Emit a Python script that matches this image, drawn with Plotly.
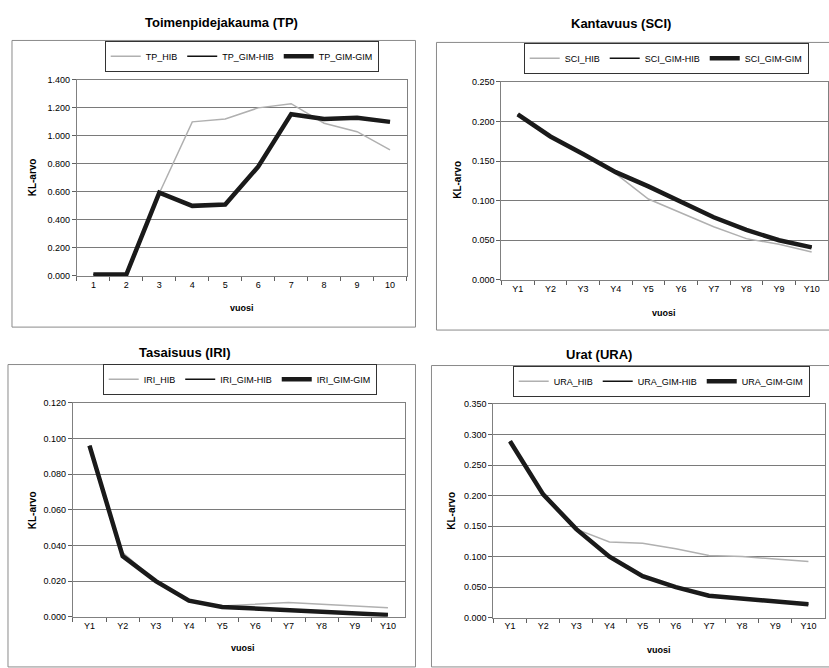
import plotly.graph_objects as go

W, H = 829, 668

years_num = ["1", "2", "3", "4", "5", "6", "7", "8", "9", "10"]
years_y = ["Y1", "Y2", "Y3", "Y4", "Y5", "Y6", "Y7", "Y8", "Y9", "Y10"]

tp_hib = [0.01, 0.01, 0.59, 1.10, 1.12, 1.20, 1.23, 1.09, 1.03, 0.90]
tp_gim_hib = [0.01, 0.01, 0.595, 0.50, 0.51, 0.78, 1.155, 1.12, 1.13, 1.10]
tp_gim_gim = [0.01, 0.01, 0.595, 0.50, 0.51, 0.78, 1.155, 1.12, 1.13, 1.10]

sci_hib = [0.209, 0.181, 0.159, 0.134, 0.102, 0.084, 0.067, 0.052, 0.045, 0.035]
sci_gim_hib = [0.209, 0.181, 0.159, 0.136, 0.118, 0.099, 0.079, 0.063, 0.050, 0.041]
sci_gim_gim = [0.209, 0.181, 0.159, 0.136, 0.118, 0.099, 0.079, 0.063, 0.050, 0.041]

iri_hib = [0.096, 0.036, 0.020, 0.009, 0.006, 0.007, 0.008, 0.007, 0.006, 0.005]
iri_gim_hib = [0.096, 0.034, 0.020, 0.009, 0.0055, 0.0045, 0.0035, 0.0026, 0.0017, 0.001]
iri_gim_gim = [0.096, 0.034, 0.020, 0.009, 0.0055, 0.0045, 0.0035, 0.0026, 0.0017, 0.001]

ura_hib = [0.289, 0.202, 0.145, 0.124, 0.122, 0.113, 0.102, 0.100, 0.096, 0.092]
ura_gim_hib = [0.289, 0.202, 0.145, 0.100, 0.068, 0.050, 0.036, 0.031, 0.026, 0.022]
ura_gim_gim = [0.289, 0.202, 0.145, 0.100, 0.068, 0.050, 0.036, 0.031, 0.026, 0.022]

titles = ["Toimenpidejakauma (TP)", "Kantavuus (SCI)", "Tasaisuus (IRI)", "Urat (URA)"]
prefixes = ["TP", "SCI", "IRI", "URA"]
y_ranges = [(0, 1.4, 0.2), (0, 0.25, 0.05), (0, 0.12, 0.02), (0, 0.35, 0.05)]

panels = [
    (years_num, tp_hib, tp_gim_hib, tp_gim_gim),
    (years_y, sci_hib, sci_gim_hib, sci_gim_gim),
    (years_y, iri_hib, iri_gim_hib, iri_gim_gim),
    (years_y, ura_hib, ura_gim_hib, ura_gim_gim),
]

# layout geometry in pixels
plot_px = [(77, 407, 76, 275), (502, 829, 78, 279), (73, 405, 404, 621), (494, 826, 405, 622)]
box_px = [(12, 416, 36, 327), (437, 832, 38, 330), (8, 416, 365, 672), (432, 832, 366, 672)]
legend_px = [(242, 52), (667, 54), (240, 380), (662, 382)]
title_px = [(222, 18), (622, 19), (185, 353), (600, 355)]
ytitle_px = [(32, 175), (458, 177), (32, 513), (452, 513)]
xtitle_px = [(242, 308), (665, 313), (243, 653), (660, 655)]

FONT = "Liberation Sans, Arial, sans-serif"

def fx(px):
    return px / W

def fy(py):
    return 1 - py / H

fig = go.Figure()
layout = dict(
    width=W, height=H,
    margin=dict(l=0, r=0, t=0, b=0),
    paper_bgcolor="white", plot_bgcolor="white",
    font=dict(family=FONT, size=9, color="black"),
    showlegend=True,
)
shapes = []
annotations = []

for i, (cats, hib, gh, gg) in enumerate(panels):
    n = i + 1
    xa = "x" if n == 1 else f"x{n}"
    ya = "y" if n == 1 else f"y{n}"
    lg = "legend" if n == 1 else f"legend{n}"
    p = prefixes[i]
    fig.add_trace(go.Scatter(x=cats, y=hib, mode="lines", name=f"{p}_HIB",
                             line=dict(color="#b0b0b0", width=1.5),
                             xaxis=xa, yaxis=ya, legend=lg))
    fig.add_trace(go.Scatter(x=cats, y=gh, mode="lines", name=f"{p}_GIM-HIB",
                             line=dict(color="#111111", width=1.5),
                             xaxis=xa, yaxis=ya, legend=lg))
    fig.add_trace(go.Scatter(x=cats, y=gg, mode="lines", name=f"{p}_GIM-GIM",
                             line=dict(color="#1a1a1a", width=4.5),
                             xaxis=xa, yaxis=ya, legend=lg))

    x0, x1, y0, y1 = plot_px[i]
    lo, hi, dt = y_ranges[i]
    layout["xaxis" if n == 1 else f"xaxis{n}"] = dict(
        domain=[fx(x0), fx(x1)], anchor=ya, type="category",
        categoryorder="array", categoryarray=cats,
        range=[-0.5, len(cats) - 0.5],
        showgrid=False, showline=True, linecolor="#808080", linewidth=1,
        mirror=True, ticks="outside", tickson="boundaries", ticklen=4,
        tickcolor="#606060", tickfont=dict(size=9, family=FONT),
        fixedrange=True,
    )
    layout["yaxis" if n == 1 else f"yaxis{n}"] = dict(
        domain=[fy(y1), fy(y0)], anchor=xa,
        range=[lo, hi], dtick=dt, tick0=0, tickformat=".3f",
        showgrid=True, gridcolor="#7a7a7a", gridwidth=1,
        showline=True, linecolor="#808080", linewidth=1, mirror=True,
        ticks="outside", ticklen=4, tickcolor="#606060",
        tickfont=dict(size=9, family=FONT), zeroline=False,
        fixedrange=True,
    )
    lx, ly = legend_px[i]
    layout[lg] = dict(
        orientation="h", x=fx(lx), y=fy(ly), xanchor="center", yanchor="middle",
        bgcolor="white", bordercolor="#333333", borderwidth=1,
        font=dict(size=9, family=FONT), itemwidth=30,
        tracegroupgap=0,
    )
    bx0, bx1, by0, by1 = box_px[i]
    shapes.append(dict(type="rect", xref="paper", yref="paper",
                       x0=fx(bx0), x1=fx(bx1), y0=fy(by1), y1=fy(by0),
                       line=dict(color="#8a8a8a", width=1), layer="below"))
    tx, ty = title_px[i]
    annotations.append(dict(text=f"<b>{titles[i]}</b>", xref="paper", yref="paper",
                            x=fx(tx), y=fy(ty), xanchor="center", yanchor="middle",
                            showarrow=False, font=dict(size=13, family=FONT)))
    yx, yy = ytitle_px[i]
    annotations.append(dict(text="<b>KL-arvo</b>", xref="paper", yref="paper",
                            x=fx(yx), y=fy(yy), xanchor="center", yanchor="middle",
                            textangle=-90, showarrow=False,
                            font=dict(size=10, family=FONT)))
    vx, vy = xtitle_px[i]
    annotations.append(dict(text="<b>vuosi</b>", xref="paper", yref="paper",
                            x=fx(vx), y=fy(vy), xanchor="center", yanchor="middle",
                            showarrow=False, font=dict(size=9, family=FONT)))

layout["shapes"] = shapes
layout["annotations"] = annotations
fig.update_layout(**layout)
fig.write_html(
    "out.html",
    config={"displayModeBar": False},
    post_script="document.body.style.margin='0';document.body.style.overflow='hidden';",
)
